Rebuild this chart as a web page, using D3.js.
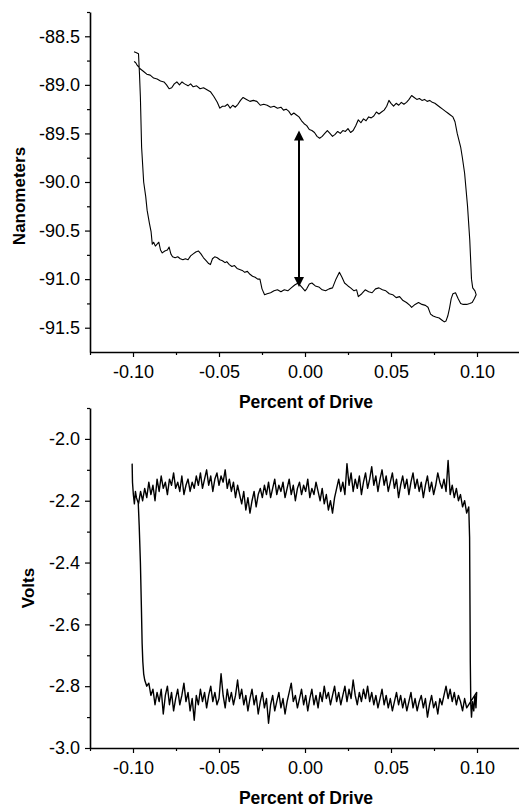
<!DOCTYPE html>
<html>
<head>
<meta charset="utf-8">
<script src="https://cdn.jsdelivr.net/npm/d3@7"></script>
<style>
body { margin: 0; background: #fff; }
svg text { font-family: "Liberation Sans", Arial, sans-serif; fill: #000; }
</style>
</head>
<body>
<div id="demo"></div>
<script>

// axis ranges and tick values
var driveDomain = [-0.125, 0.125];
var driveTicks = [-0.10, -0.05, 0.00, 0.05, 0.10];
var driveMinor = [-0.125, -0.075, -0.025, 0.025, 0.075, 0.125];

var nmDomain = [-91.75, -88.25];
var nmTicks = [-88.5, -89.0, -89.5, -90.0, -90.5, -91.0, -91.5];
var nmMinor = [-88.25, -88.75, -89.25, -89.75, -90.25, -90.75, -91.25];

var voltDomain = [-3.0, -1.9];
var voltTicks = [-2.0, -2.2, -2.4, -2.6, -2.8, -3.0];
var voltMinor = [-1.9, -2.1, -2.3, -2.5, -2.7, -2.9];

// top panel: hysteresis loop (drive, nanometers), in trace order
var loopDrive = [
	-0.0994,-0.0980,-0.0968,-0.0962,-0.0957,-0.0950,-0.0938,-0.0926,-0.0918,-0.0905,
	-0.0895,-0.0888,-0.0880,-0.0870,-0.0860,-0.0850,-0.0840,-0.0830,-0.0815,-0.0800,
	-0.0790,-0.0780,-0.0770,-0.0755,-0.0740,-0.0725,-0.0710,-0.0695,-0.0680,-0.0665,
	-0.0650,-0.0635,-0.0620,-0.0605,-0.0590,-0.0575,-0.0560,-0.0550,-0.0538,-0.0525,
	-0.0510,-0.0495,-0.0480,-0.0465,-0.0455,-0.0440,-0.0425,-0.0410,-0.0395,-0.0380,
	-0.0365,-0.0350,-0.0335,-0.0320,-0.0305,-0.0290,-0.0275,-0.0262,-0.0250,-0.0235,
	-0.0220,-0.0200,-0.0180,-0.0160,-0.0140,-0.0120,-0.0100,-0.0080,-0.0060,-0.0040,
	-0.0020,0.0000,0.0010,0.0025,0.0040,0.0060,0.0080,0.0100,0.0120,0.0140,
	0.0160,0.0180,0.0200,0.0215,0.0230,0.0250,0.0265,0.0285,0.0300,0.0310,
	0.0330,0.0350,0.0370,0.0390,0.0410,0.0430,0.0450,0.0470,0.0490,0.0510,
	0.0530,0.0550,0.0570,0.0590,0.0610,0.0620,0.0640,0.0660,0.0680,0.0700,
	0.0715,0.0730,0.0745,0.0760,0.0780,0.0795,0.0810,0.0820,0.0830,0.0840,
	0.0850,0.0860,0.0875,0.0890,0.0905,0.0920,0.0940,0.0958,0.0972,0.0985,
	0.0995,0.0988,0.0975,0.0968,0.0958,0.0945,0.0928,0.0915,0.0905,0.0885,
	0.0872,0.0860,0.0845,0.0830,0.0815,0.0800,0.0785,0.0770,0.0755,0.0740,
	0.0725,0.0710,0.0695,0.0680,0.0665,0.0650,0.0635,0.0620,0.0605,0.0590,
	0.0575,0.0560,0.0545,0.0530,0.0515,0.0500,0.0488,0.0475,0.0460,0.0445,
	0.0430,0.0415,0.0400,0.0385,0.0370,0.0355,0.0340,0.0325,0.0310,0.0295,
	0.0280,0.0265,0.0250,0.0235,0.0220,0.0205,0.0190,0.0175,0.0160,0.0145,
	0.0130,0.0115,0.0100,0.0085,0.0070,0.0055,0.0040,0.0025,0.0010,-0.0005,
	-0.0020,-0.0035,-0.0050,-0.0065,-0.0080,-0.0095,-0.0110,-0.0125,-0.0140,-0.0160,
	-0.0180,-0.0200,-0.0220,-0.0240,-0.0260,-0.0280,-0.0300,-0.0320,-0.0340,-0.0360,
	-0.0375,-0.0390,-0.0405,-0.0420,-0.0435,-0.0450,-0.0465,-0.0480,-0.0495,-0.0510,
	-0.0530,-0.0550,-0.0570,-0.0590,-0.0610,-0.0630,-0.0650,-0.0665,-0.0680,-0.0700,
	-0.0715,-0.0730,-0.0745,-0.0760,-0.0775,-0.0790,-0.0805,-0.0820,-0.0840,-0.0860,
	-0.0880,-0.0900,-0.0920,-0.0940,-0.0955,-0.0965,-0.0975,-0.0985,-0.0994
];
var loopNm = [
	-88.66,-88.67,-88.68,-88.90,-89.13,-89.64,-90.00,-90.15,-90.29,-90.42,
	-90.51,-90.64,-90.62,-90.66,-90.64,-90.62,-90.70,-90.73,-90.71,-90.70,
	-90.67,-90.74,-90.77,-90.78,-90.77,-90.79,-90.80,-90.79,-90.80,-90.76,
	-90.74,-90.72,-90.71,-90.74,-90.78,-90.81,-90.84,-90.85,-90.79,-90.77,
	-90.78,-90.80,-90.81,-90.83,-90.82,-90.85,-90.87,-90.86,-90.89,-90.90,
	-90.91,-90.93,-90.92,-90.95,-90.97,-90.98,-91.00,-91.00,-91.10,-91.16,
	-91.15,-91.14,-91.12,-91.11,-91.13,-91.11,-91.12,-91.09,-91.06,-91.04,
	-91.08,-91.12,-91.10,-91.05,-91.04,-91.07,-91.08,-91.11,-91.12,-91.10,
	-91.09,-91.00,-90.93,-90.98,-91.04,-91.07,-91.09,-91.12,-91.11,-91.18,
	-91.15,-91.11,-91.13,-91.14,-91.10,-91.09,-91.11,-91.12,-91.15,-91.16,
	-91.19,-91.18,-91.22,-91.24,-91.27,-91.29,-91.26,-91.24,-91.26,-91.27,
	-91.29,-91.36,-91.38,-91.39,-91.40,-91.42,-91.44,-91.43,-91.38,-91.30,
	-91.20,-91.15,-91.14,-91.20,-91.25,-91.26,-91.26,-91.25,-91.24,-91.20,
	-91.16,-91.12,-91.09,-91.00,-90.60,-90.25,-89.91,-89.75,-89.64,-89.50,
	-89.38,-89.33,-89.31,-89.29,-89.27,-89.25,-89.23,-89.21,-89.19,-89.18,
	-89.16,-89.17,-89.15,-89.16,-89.14,-89.15,-89.13,-89.11,-89.15,-89.18,
	-89.20,-89.18,-89.21,-89.19,-89.22,-89.19,-89.16,-89.22,-89.26,-89.28,
	-89.30,-89.28,-89.32,-89.34,-89.33,-89.37,-89.35,-89.39,-89.36,-89.42,
	-89.47,-89.49,-89.45,-89.48,-89.47,-89.50,-89.48,-89.51,-89.53,-89.50,
	-89.47,-89.50,-89.53,-89.55,-89.53,-89.49,-89.47,-89.46,-89.42,-89.40,
	-89.37,-89.33,-89.31,-89.29,-89.31,-89.27,-89.25,-89.26,-89.23,-89.24,
	-89.22,-89.23,-89.21,-89.20,-89.21,-89.17,-89.16,-89.17,-89.15,-89.13,
	-89.16,-89.20,-89.23,-89.21,-89.24,-89.20,-89.22,-89.22,-89.24,-89.18,
	-89.12,-89.07,-89.05,-89.03,-89.04,-89.01,-89.02,-88.99,-89.01,-88.99,
	-88.97,-89.00,-88.97,-88.99,-89.03,-89.04,-89.00,-88.97,-88.96,-88.94,
	-88.93,-88.90,-88.89,-88.86,-88.84,-88.82,-88.80,-88.77,-88.76
];

// double arrow in the top panel
var arrowDrive = -0.0035;
var arrowTop = -89.47;
var arrowBottom = -91.08;

// bottom panel: volts, sampled on one drive grid for both branches
var voltDrive = [
	-0.0980,-0.0968,-0.0956,-0.0944,-0.0932,-0.0920,-0.0908,-0.0896,-0.0884,-0.0872,
	-0.0860,-0.0848,-0.0836,-0.0824,-0.0812,-0.0800,-0.0788,-0.0776,-0.0764,-0.0752,
	-0.0740,-0.0728,-0.0716,-0.0704,-0.0692,-0.0680,-0.0668,-0.0656,-0.0644,-0.0632,
	-0.0620,-0.0608,-0.0596,-0.0584,-0.0572,-0.0560,-0.0548,-0.0536,-0.0524,-0.0512,
	-0.0500,-0.0488,-0.0476,-0.0464,-0.0452,-0.0440,-0.0428,-0.0416,-0.0404,-0.0392,
	-0.0380,-0.0368,-0.0356,-0.0344,-0.0332,-0.0320,-0.0308,-0.0296,-0.0284,-0.0272,
	-0.0260,-0.0248,-0.0236,-0.0224,-0.0212,-0.0200,-0.0188,-0.0176,-0.0164,-0.0152,
	-0.0140,-0.0128,-0.0116,-0.0104,-0.0092,-0.0080,-0.0068,-0.0056,-0.0044,-0.0032,
	-0.0020,-0.0008,0.0004,0.0016,0.0028,0.0040,0.0052,0.0064,0.0076,0.0088,
	0.0100,0.0112,0.0124,0.0136,0.0148,0.0160,0.0172,0.0184,0.0196,0.0208,
	0.0220,0.0232,0.0244,0.0256,0.0268,0.0280,0.0292,0.0304,0.0316,0.0328,
	0.0340,0.0352,0.0364,0.0376,0.0388,0.0400,0.0412,0.0424,0.0436,0.0448,
	0.0460,0.0472,0.0484,0.0496,0.0508,0.0520,0.0532,0.0544,0.0556,0.0568,
	0.0580,0.0592,0.0604,0.0616,0.0628,0.0640,0.0652,0.0664,0.0676,0.0688,
	0.0700,0.0712,0.0724,0.0736,0.0748,0.0760,0.0772,0.0784,0.0796,0.0808,
	0.0820,0.0832,0.0844,0.0856,0.0868,0.0880,0.0892,0.0904,0.0916,0.0928,
	0.0940,0.0952
];
var voltUpper = [
	-2.19,-2.21,-2.17,-2.20,-2.16,-2.19,-2.14,-2.18,-2.15,-2.20,
	-2.13,-2.17,-2.12,-2.16,-2.14,-2.18,-2.13,-2.15,-2.11,-2.16,
	-2.14,-2.17,-2.12,-2.18,-2.15,-2.13,-2.17,-2.14,-2.16,-2.12,
	-2.15,-2.11,-2.16,-2.13,-2.10,-2.15,-2.12,-2.17,-2.13,-2.11,
	-2.15,-2.12,-2.14,-2.10,-2.16,-2.13,-2.17,-2.14,-2.19,-2.15,
	-2.18,-2.21,-2.17,-2.23,-2.19,-2.24,-2.20,-2.17,-2.22,-2.18,
	-2.16,-2.19,-2.15,-2.18,-2.14,-2.19,-2.16,-2.13,-2.18,-2.15,
	-2.17,-2.14,-2.19,-2.16,-2.13,-2.18,-2.15,-2.20,-2.16,-2.14,
	-2.18,-2.15,-2.17,-2.13,-2.19,-2.16,-2.18,-2.14,-2.17,-2.20,
	-2.16,-2.21,-2.18,-2.23,-2.20,-2.24,-2.19,-2.16,-2.13,-2.17,
	-2.14,-2.18,-2.08,-2.15,-2.11,-2.17,-2.13,-2.16,-2.12,-2.18,
	-2.14,-2.11,-2.16,-2.13,-2.09,-2.15,-2.12,-2.17,-2.13,-2.10,
	-2.15,-2.12,-2.17,-2.14,-2.11,-2.16,-2.13,-2.19,-2.15,-2.12,
	-2.16,-2.13,-2.18,-2.14,-2.11,-2.16,-2.13,-2.17,-2.14,-2.19,
	-2.15,-2.12,-2.17,-2.14,-2.18,-2.15,-2.11,-2.14,-2.16,-2.13,
	-2.17,-2.07,-2.18,-2.15,-2.19,-2.16,-2.20,-2.18,-2.22,-2.20,
	-2.24,-2.22
];
var voltLower = [
	null,null,null,null,-2.78,-2.80,-2.79,-2.83,-2.81,-2.86,
	-2.82,-2.85,-2.81,-2.89,-2.83,-2.80,-2.86,-2.82,-2.88,-2.84,
	-2.81,-2.86,-2.83,-2.79,-2.85,-2.82,-2.88,-2.84,-2.91,-2.83,
	-2.86,-2.81,-2.85,-2.82,-2.87,-2.83,-2.80,-2.85,-2.82,-2.86,
	-2.84,-2.76,-2.83,-2.87,-2.81,-2.85,-2.82,-2.86,-2.83,-2.78,
	-2.84,-2.81,-2.86,-2.83,-2.88,-2.84,-2.81,-2.86,-2.83,-2.89,
	-2.85,-2.82,-2.87,-2.84,-2.92,-2.86,-2.83,-2.88,-2.85,-2.82,
	-2.87,-2.84,-2.89,-2.85,-2.82,-2.79,-2.85,-2.83,-2.87,-2.84,
	-2.81,-2.86,-2.83,-2.88,-2.84,-2.81,-2.86,-2.83,-2.87,-2.82,
	-2.85,-2.80,-2.84,-2.82,-2.86,-2.83,-2.80,-2.85,-2.82,-2.86,
	-2.83,-2.80,-2.85,-2.81,-2.84,-2.78,-2.83,-2.86,-2.82,-2.85,
	-2.81,-2.84,-2.80,-2.85,-2.82,-2.86,-2.83,-2.87,-2.84,-2.81,
	-2.86,-2.83,-2.87,-2.84,-2.88,-2.85,-2.82,-2.86,-2.83,-2.87,
	-2.84,-2.88,-2.85,-2.82,-2.87,-2.84,-2.88,-2.85,-2.83,-2.87,
	-2.84,-2.90,-2.86,-2.83,-2.87,-2.85,-2.89,-2.84,-2.86,-2.83,
	-2.80,-2.84,-2.81,-2.85,-2.82,-2.86,-2.83,-2.85,-2.88,-2.84,
	-2.87,-2.86
];
// start spike, right switching edge, left switching edge
var voltStartDrive = [-0.1005, -0.1003, -0.0998, -0.0992, -0.0986];
var voltStartV = [-2.08, -2.14, -2.18, -2.21, -2.17];
var voltRightDrive = [0.0957, 0.0959, 0.0961, 0.0964, 0.0968, 0.0974, 0.0981, 0.0988, 0.0994, 0.0998];
var voltRightV = [-2.32, -2.52, -2.72, -2.86, -2.90, -2.85, -2.88, -2.83, -2.87, -2.82];
var voltLeftDrive = [-0.0938, -0.0943, -0.0947, -0.0951, -0.0957, -0.0964, -0.0970];
var voltLeftV = [-2.76, -2.72, -2.66, -2.55, -2.40, -2.28, -2.20];

// SVG
var svg = d3.select("#demo").append("svg")
	.attr("width", 519)
	.attr("height", 808);

// hyphen minus like the original
var fmt = d3.formatLocale({ decimal: ".", thousands: ",", grouping: [3], currency: ["", ""], minus: "-" });

var x = d3.scaleLinear().domain(driveDomain).range([90, 520]);
var yNm = d3.scaleLinear().domain(nmDomain).range([352, 12]);
var yV = d3.scaleLinear().domain(voltDomain).range([748, 408]);

function styleAxis(g) {
	g.selectAll(".domain").attr("stroke", "#000").attr("stroke-width", 1.6);
	g.selectAll(".tick line").attr("stroke", "#000").attr("stroke-width", 1.2);
	g.selectAll(".tick text")
		.attr("font-size", 18)
		.attr("font-family", "'Liberation Sans', Arial, sans-serif");
}

function drawPanel(y, yBase, yTicks, yMinor, yFmt) {
	// minor ticks first
	var gm = svg.append("g").attr("transform", "translate(90,0)")
		.call(d3.axisLeft(y).tickValues(yMinor).tickSize(3).tickSizeOuter(0).tickFormat(""));
	gm.select(".domain").remove();
	styleAxis(gm);

	var gy = svg.append("g").attr("transform", "translate(90,0)")
		.call(d3.axisLeft(y).tickValues(yTicks).tickSize(5).tickSizeOuter(0).tickPadding(5).tickFormat(fmt.format(yFmt)));
	styleAxis(gy);

	var gxm = svg.append("g").attr("transform", "translate(0," + yBase + ")")
		.call(d3.axisBottom(x).tickValues(driveMinor).tickSize(3).tickSizeOuter(0).tickFormat(""));
	gxm.select(".domain").remove();
	styleAxis(gxm);

	var gx = svg.append("g").attr("transform", "translate(0," + yBase + ")")
		.call(d3.axisBottom(x).tickValues(driveTicks).tickSize(5).tickSizeOuter(0).tickPadding(8).tickFormat(fmt.format(".2f")));
	styleAxis(gx);
}

drawPanel(yNm, 352, nmTicks, nmMinor, ".1f");
drawPanel(yV, 748, voltTicks, voltMinor, ".1f");

// axis titles
svg.append("text")
	.attr("x", x(0) + 1).attr("y", 408)
	.attr("text-anchor", "middle")
	.attr("font-size", 17.5).attr("font-weight", "bold")
	.text("Percent of Drive");
svg.append("text")
	.attr("x", x(0) + 1).attr("y", 804)
	.attr("text-anchor", "middle")
	.attr("font-size", 17.5).attr("font-weight", "bold")
	.text("Percent of Drive");
svg.append("text")
	.attr("transform", "translate(24.5,196) rotate(-90)")
	.attr("text-anchor", "middle")
	.attr("font-size", 17).attr("font-weight", "bold")
	.text("Nanometers");
svg.append("text")
	.attr("transform", "translate(33.5,588) rotate(-90)")
	.attr("text-anchor", "middle")
	.attr("font-size", 17).attr("font-weight", "bold")
	.text("Volts");

// top loop
var loopPts = loopDrive.map(function(d, i) { return [d, loopNm[i]]; });
var lineNm = d3.line()
	.x(function(d) { return x(d[0]); })
	.y(function(d) { return yNm(d[1]); });
svg.append("path")
	.datum(loopPts)
	.attr("d", lineNm)
	.attr("fill", "none")
	.attr("stroke", "#000")
	.attr("stroke-width", 1.1)
	.attr("stroke-linejoin", "round");

// double arrow
var ax = x(arrowDrive);
var aTop = yNm(arrowTop);
var aBot = yNm(arrowBottom);
svg.append("line")
	.attr("x1", ax).attr("x2", ax)
	.attr("y1", aTop + 8).attr("y2", aBot - 8)
	.attr("stroke", "#000")
	.attr("stroke-width", 2);
svg.append("path")
	.attr("d", "M" + ax + "," + aTop + "L" + (ax - 5) + "," + (aTop + 10) + "L" + (ax + 5) + "," + (aTop + 10) + "Z")
	.attr("fill", "#000");
svg.append("path")
	.attr("d", "M" + ax + "," + aBot + "L" + (ax - 5) + "," + (aBot - 10) + "L" + (ax + 5) + "," + (aBot - 10) + "Z")
	.attr("fill", "#000");

// bottom trace: start spike -> upper branch -> right edge -> lower branch back -> left edge
var voltPts = [];
voltStartDrive.forEach(function(d, i) { voltPts.push([d, voltStartV[i]]); });
voltDrive.forEach(function(d, i) { voltPts.push([d, voltUpper[i]]); });
voltRightDrive.forEach(function(d, i) { voltPts.push([d, voltRightV[i]]); });
for (var i = voltDrive.length - 1; i >= 0; i--) {
	if (voltLower[i] != null) voltPts.push([voltDrive[i], voltLower[i]]);
}
voltLeftDrive.forEach(function(d, i) { voltPts.push([d, voltLeftV[i]]); });

var lineV = d3.line()
	.x(function(d) { return x(d[0]); })
	.y(function(d) { return yV(d[1]); });
svg.append("path")
	.datum(voltPts)
	.attr("d", lineV)
	.attr("fill", "none")
	.attr("stroke", "#000")
	.attr("stroke-width", 1.4)
	.attr("stroke-linejoin", "round");

</script>
</body>
</html>
